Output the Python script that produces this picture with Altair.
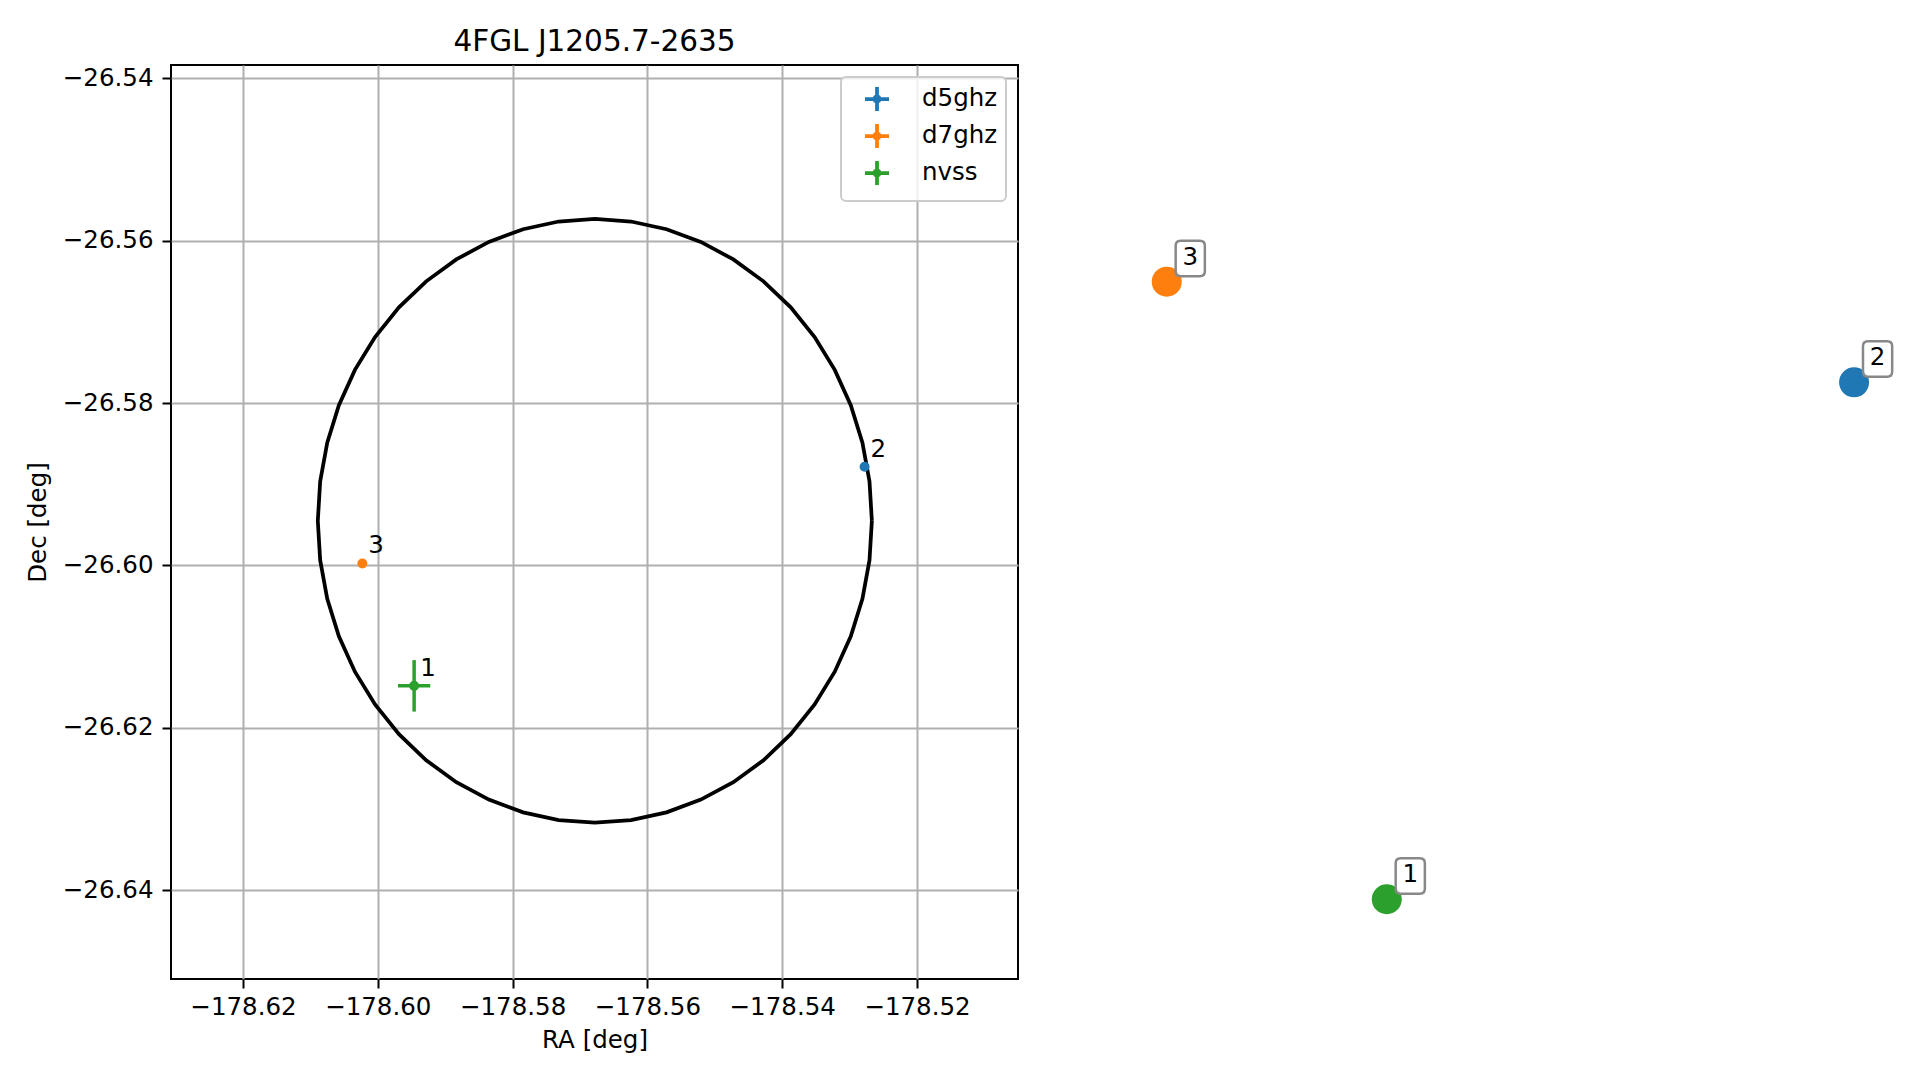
import altair as alt
import numpy as np
import pandas as pd

# ---- data ----
names = ["d5ghz", "d7ghz", "nvss"]
labels = ["2", "3", "1"]
colors = ["#1f77b4", "#ff7f0e", "#2ca02c"]
ra = [-178.52778, -178.60229, -178.59461]
dec = [-26.58785, -26.59975, -26.61483]
ra_err = [0.0, 0.0, 0.00240]
dec_err = [0.0, 0.0, 0.00317]
# large labelled markers drawn off to the right of the axes
far_ra = [-178.38098, -178.48295, -178.45031]
far_dec = [-26.57745, -26.56506, -26.64111]

x_ticks = [-178.62, -178.60, -178.58, -178.56, -178.54, -178.52]
y_ticks = [-26.54, -26.56, -26.58, -26.60, -26.62, -26.64]
x_domain = [-178.63068, -178.50502]
y_domain = [-26.65093, -26.53837]

# 95% region outline of the 4FGL source
ell_center_ra = -178.5678
ell_center_dec = -26.5945
ell_semi_ra = 0.04110
ell_semi_dec = 0.03717
ell_vertices = 48

FONT = "DejaVu Sans"
FS = 24.5

pts = pd.DataFrame({
    "name": names, "label": labels, "ra": ra, "dec": dec,
    "ra_lo": np.array(ra) - np.array(ra_err), "ra_hi": np.array(ra) + np.array(ra_err),
    "dec_lo": np.array(dec) - np.array(dec_err), "dec_hi": np.array(dec) + np.array(dec_err),
})
err = pts[pts["name"] == "nvss"]
far = pd.DataFrame({"name": names, "label": labels, "ra": far_ra, "dec": far_dec})

t = np.linspace(0, 2 * np.pi, ell_vertices + 1)
ell = pd.DataFrame({
    "i": np.arange(ell_vertices + 1),
    "ra": ell_center_ra + ell_semi_ra * np.cos(t),
    "dec": ell_center_dec + ell_semi_dec * np.sin(t),
})

xscale = alt.Scale(domain=x_domain, nice=False, zero=False)
yscale = alt.Scale(domain=y_domain, nice=False, zero=False)
cscale = alt.Scale(domain=names, range=colors)

common_axis = dict(
    grid=True, gridColor="#b0b0b0", gridWidth=2, domain=False,
    tickColor="black", tickWidth=2, tickSize=9, format=".2f",
    labelFont=FONT, labelFontSize=FS, labelColor="black",
    labelFlush=False, labelOverlap=False,
    titleFont=FONT, titleFontSize=FS, titleFontWeight="normal", titleColor="black",
)
xaxis = alt.Axis(values=x_ticks, title="RA [deg]", labelPadding=7, titlePadding=10, **common_axis)
yaxis = alt.Axis(values=y_ticks, title="Dec [deg]", labelPadding=9, titlePadding=12, **common_axis)


def X(field):
    return alt.X(field, type="quantitative", scale=xscale, axis=xaxis)


def Y(field):
    return alt.Y(field, type="quantitative", scale=yscale, axis=yaxis)


CROSS = ("M-1,0H1M0,-1V1M0.22,0L0.156,0.156L0,0.22L-0.156,0.156L-0.22,0"
         "L-0.156,-0.156L0,-0.22L0.156,-0.156Z")
BOX = ("M-0.54,-1H0.54Q0.822,-1 0.822,-0.72V0.72Q0.822,1 0.54,1H-0.54"
       "Q-0.822,1 -0.822,0.72V-0.72Q-0.822,-1 -0.54,-1Z")

legend = alt.Legend(
    orient="top-right", offset=12, title=None,
    symbolType=CROSS, symbolSize=576, symbolStrokeWidth=3.75,
    labelFont=FONT, labelFontSize=FS, labelColor="black",
    padding=8, rowPadding=-3, symbolOffset=14, labelOffset=31,
    fillColor="rgba(255,255,255,0.8)", strokeColor="#cccccc", cornerRadius=5,
)

ellipse = alt.Chart(ell).mark_line(color="black", strokeWidth=3.75).encode(
    x=X("ra"), y=Y("dec"), order=alt.Order("i:Q")
)

# small dots: a thick-stroked tiny circle reads as a solid dot (owns the legend, so it comes first)
points = alt.Chart(pts).mark_point(filled=False, size=25, strokeWidth=5, opacity=1, shape="circle").encode(
    x=X("ra"), y=Y("dec"),
    color=alt.Color("name:N", scale=cscale, legend=legend),
)

err_h = alt.Chart(err).mark_rule(strokeWidth=3.5).encode(
    x=X("ra_lo"), x2="ra_hi", y=Y("dec"),
    color=alt.Color("name:N", scale=cscale, legend=None),
)
err_v = alt.Chart(err).mark_rule(strokeWidth=3.5).encode(
    x=X("ra"), y=Y("dec_lo"), y2="dec_hi",
    color=alt.Color("name:N", scale=cscale, legend=None),
)

pt_labels = alt.Chart(pts).mark_text(
    align="left", baseline="alphabetic", dx=6, dy=-10, font=FONT, fontSize=FS, color="black"
).encode(x=X("ra"), y=Y("dec"), text="label:N")

far_pts = alt.Chart(far).mark_circle(size=900, opacity=1).encode(
    x=X("ra"), y=Y("dec"),
    color=alt.Color("name:N", scale=cscale, legend=None),
)
far_boxes = alt.Chart(far).mark_point(
    shape=BOX, size=1260, filled=True, fill="white", fillOpacity=0.85, stroke="#888888",
    strokeWidth=2.5, opacity=1, xOffset=23.5, yOffset=-23.3,
).encode(x=X("ra"), y=Y("dec"))
far_text = alt.Chart(far).mark_text(
    align="center", baseline="middle", dx=23.5, dy=-24, font=FONT, fontSize=FS, color="black"
).encode(x=X("ra"), y=Y("dec"), text="label:N")

chart = alt.layer(
    ellipse, points, err_h, err_v, pt_labels, far_pts, far_boxes, far_text
).properties(
    width=847, height=914,
    title=alt.TitleParams("4FGL J1205.7-2635", font=FONT, fontSize=29.5, fontWeight="normal",
                          color="black", anchor="middle", frame="group",
                          baseline="alphabetic", offset=13, dy=28),
    autosize=alt.AutoSizeParams(type="none"),
    padding={"left": 163, "top": 57, "right": 890, "bottom": 85},
).configure_view(
    stroke="black", strokeWidth=2
).configure_legend(
    strokeWidth=2
)

chart.save("out.html", embed_options={"renderer": "svg", "actions": False})
